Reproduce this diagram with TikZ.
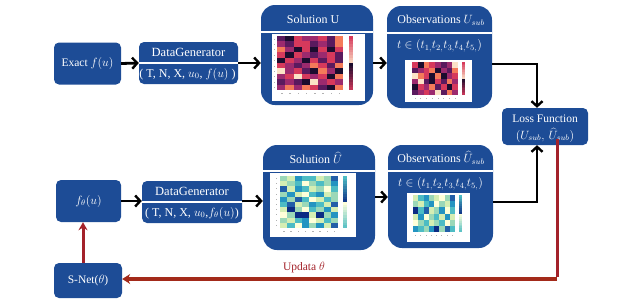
\documentclass[tikz,border=0pt]{standalone}
\usepackage{fontspec}
\setmainfont{Liberation Serif}
\usetikzlibrary{arrows.meta,calc}
\definecolor{bx}{HTML}{1D4C96}
\definecolor{rd}{HTML}{A3222A}
\definecolor{rdhc}{HTML}{A32A1A}
\definecolor{ma0}{HTML}{1B0C2E}
\definecolor{ma1}{HTML}{5A1A5E}
\definecolor{ma2}{HTML}{9C2A6E}
\definecolor{ma3}{HTML}{D6395C}
\definecolor{ma4}{HTML}{F47A5A}
\definecolor{ma5}{HTML}{FBE2C6}
\definecolor{yg0}{HTML}{FFFFD9}
\definecolor{yg1}{HTML}{D5EEB3}
\definecolor{yg2}{HTML}{9BD8B8}
\definecolor{yg3}{HTML}{4DBCC4}
\definecolor{yg4}{HTML}{2494C1}
\definecolor{yg5}{HTML}{225EA8}
\definecolor{yg6}{HTML}{0C2C84}
\newcommand{\hmap}[6]{%
  \foreach \row [count=\j from 0] in {#6} {
    \foreach \v [count=\i from 0] in \row {
      \fill[#5\v] ({#1+\i*#3},{#2+\j*#4}) rectangle ++(#3,#4);
    }
  }}
% colour bar: x, ytop, width, height, top colour, mid colour, bottom colour
\newcommand{\cbar}[7]{%
  \foreach \k in {0,...,9} {
    \pgfmathsetmacro{\pp}{100-\k*10}
    \fill[#6!\pp!#5] (#1,{#2+\k*#4/20}) rectangle ++(#3,{#4/20+0.3});
    \fill[#7!\pp!#6] (#1,{#2+(\k+10)*#4/20}) rectangle ++(#3,{#4/20+(\k<9?0.3:0)});
  }}
\tikzset{
  sbox/.style={fill=bx, rounded corners=5pt, text=white, font=\fontsize{11.5}{13}\selectfont, align=center, inner sep=0pt},
  bbox/.style={fill=bx, rounded corners=14pt, inner sep=0pt},
  wtxt/.style={text=white, font=\fontsize{12}{14}\selectfont, inner sep=0pt},
  divl/.style={white, line width=1.8pt},
  blk/.style={black, line width=2.8pt, -{Straight Barb[length=5pt,width=11pt,line width=2.4pt]}},
  rda/.style={rd, line width=3pt, -{Stealth[length=8pt,width=9pt]}},
  rdl/.style={rd, line width=3pt},
  rdharrow/.style={rdhc, line width=4pt, -{Stealth[length=8pt,width=10pt]}},
  lbl/.style={text=rd, font=\fontsize{11.5}{13}\selectfont, inner sep=0pt}
}
\begin{document}
\begin{tikzpicture}[x=1pt,y=-1pt]
\useasboundingbox (0,0) rectangle (618,303);
% ---- top row
\node[sbox, minimum width=67pt, minimum height=42pt] (ex) at (87.5,63.5) {Exact $f(u)$};
\node[sbox, minimum width=99pt, minimum height=42pt] (dg1) at (188.5,63) {};
\draw[divl] (dg1.west) -- (dg1.east);
\node[wtxt, font=\fontsize{12.5}{14}\selectfont] (dg1t) at (188.5,52.5) {DataGenerator};
\node[wtxt] (dg1p) at (187.5,74) {( T, N, X, $u_0$, $f(u)$ )};
\node[bbox, minimum width=112pt, minimum height=100pt] (su) at (317,55) {};
\draw[divl] (su.west |- 0,32) -- (su.east |- 0,32);
\node[wtxt] (sut) at (313,19) {Solution U};
\node[bbox, minimum width=105pt, minimum height=102pt] (ou) at (439.5,57) {};
\draw[divl] (ou.west |- 0,33) -- (ou.east |- 0,33);
\node[wtxt] (out) at (441,20) {Observations $U_{sub}$};
\node[wtxt] (oue) at (439.5,46) {$t\in(t_{1,}t_{2,}t_{3,}t_{4,}t_{5,})$};
% heatmap top solution
\fill[white] (272,34) rectangle (365,101);
\hmap{277}{36}{8.25}{5.4}{ma}{{1,0,3,2,2,3,1,4},{2,1,3,3,1,2,1,4},{4,2,0,3,0,3,0,3},{3,0,3,2,1,2,3,1},{0,3,2,0,3,1,3,1},{3,2,1,2,4,3,1,4},{5,2,3,1,0,4,2,0},{2,3,5,3,2,3,0,4},{1,2,1,0,5,2,3,2},{2,4,2,4,3,1,0,4}}
\cbar{349}{36}{3.5}{54}{ma5}{ma3}{ma0}
\foreach \k in {0,...,7} {\fill[gray!60] ({281+\k*8.25},93) rectangle ++(1.5,1);}
\foreach \k in {0,...,9} {\fill[gray!60] (274,{38.5+\k*5.4}) rectangle ++(1,1);}
% heatmap top obs
\fill[white] (405,60) rectangle (472,102);
\hmap{412}{62}{5.75}{5.5}{ma}{{3,0,4,3,2,1,2,5},{1,2,3,4,0,2,1,4},{5,4,3,0,4,0,2,3},{2,5,1,0,3,1,4,2},{0,3,2,4,1,3,0,3},{1,2,3,2,5,1,4,2}}
\cbar{462}{62}{3}{33}{ma5}{ma3}{ma0}
\foreach \k in {0,...,7} {\fill[gray!60] ({414.5+\k*5.75},97.5) rectangle ++(1.2,0.8);}
% loss
\node[sbox, minimum width=86pt, minimum height=37pt] (loss) at (545,126.5) {};
\node[wtxt, font=\fontsize{11.5}{13}\selectfont] (lossa) at (545,119) {Loss Function};
\node[wtxt, font=\fontsize{11.5}{13}\selectfont] (lossb) at (545,135) {$(U_{sub},\,\widehat{U}_{sub})$};
% ---- bottom row
\node[sbox, minimum width=65pt, minimum height=42pt] (ft) at (88.5,201) {$f_\theta(u)$};
\node[sbox, minimum width=100pt, minimum height=42pt] (dg2) at (192,202) {};
\draw[divl] (dg2.west) -- (dg2.east);
\node[wtxt, font=\fontsize{12.5}{14}\selectfont] (dg2t) at (192,191) {DataGenerator};
\node[wtxt] (dg2p) at (192,213) {( T, N, X, $u_0$,$f_\theta(u)$)};
\node[bbox, minimum width=112pt, minimum height=105pt] (sh) at (319,197.5) {};
\draw[divl] (sh.west |- 0,171) -- (sh.east |- 0,171);
\node[wtxt] (sht) at (316,158) {Solution $\widehat{U}$};
\node[bbox, minimum width=105pt, minimum height=103pt] (oh) at (440.5,196.5) {};
\draw[divl] (oh.west |- 0,171) -- (oh.east |- 0,171);
\node[wtxt] (oht) at (441,158) {Observations $\widehat{U}_{sub}$};
\node[wtxt] (ohe) at (440.5,184) {$t\in(t_{1,}t_{2,}t_{3,}t_{4,}t_{5,})$};
% heatmap bottom solution
\fill[white] (270,173) rectangle (356,237);
\hmap{280}{176}{7.25}{5.2}{yg}{{2,1,4,3,3,1,2,5},{1,2,3,0,2,3,2,4},{5,1,4,3,1,2,0,3},{2,4,1,0,3,4,1,2},{4,2,5,3,0,1,3,2},{3,5,1,2,4,3,1,5},{1,6,2,0,3,2,4,1},{0,2,6,6,1,6,2,4},{2,1,3,4,0,1,3,2},{1,3,0,4,2,4,1,5}}
\cbar{343}{176}{4}{52}{yg6}{yg3}{yg0}
\foreach \k in {0,...,7} {\fill[gray!60] ({283+\k*7.25},231) rectangle ++(1.5,1);}
\foreach \k in {0,...,9} {\fill[gray!60] (276,{178+\k*5.2}) rectangle ++(1,1);}
% heatmap bottom obs
\fill[white] (407,193) rectangle (470,242);
\hmap{413}{195}{5.25}{6.2}{yg}{{1,3,4,2,1,0,2,5},{2,1,3,4,0,2,1,4},{6,3,5,1,2,4,0,3},{1,4,0,2,3,1,4,1},{0,2,3,1,2,3,0,2},{4,3,2,4,6,2,5,3}}
\cbar{459}{195}{3}{37}{yg6}{yg3}{yg0}
\foreach \k in {0,...,7} {\fill[gray!60] ({415+\k*5.25},235) rectangle ++(1.2,0.8);}
% S-Net
\node[sbox, minimum width=68pt, minimum height=35pt] (sn) at (88,280.5) {S-Net($\theta$)};
% ---- connectors
\draw[blk] (ex.east) -- (dg1.west);
\draw[blk] (dg1.east) -- (su.west |- dg1.east);
\draw[blk] (su.east |- 0,63) -- (ou.west |- 0,63);
\draw[blk] (ft.east) -- (dg2.west |- ft.east);
\draw[blk] (dg2.east |- ft.east) -- (sh.west |- ft.east);
\draw[blk] (sh.east |- 0,197) -- (oh.west |- 0,197);
\coordinate (lt) at ([xshift=-8]loss.north);
\coordinate (lb) at ([xshift=-8]loss.south);
\draw[blk] (ou.east |- 0,64) -| (lt);
\draw[blk] (oh.east |- 0,202) -| (lb);
\coordinate (rs) at ([xshift=12]loss.south);
\coordinate (rc) at (557,279);
\draw[rdl] ([yshift=6]rs) -- ([yshift=2]rc);
\draw[rdharrow] (rc) -- (sn.east |- rc);
\draw[rda] ([xshift=-5]sn.north) -- ([xshift=-5]sn.north |- ft.south);
\node[lbl] (up) at (304,268) {Updata $\theta$};
\end{tikzpicture}
\end{document}
